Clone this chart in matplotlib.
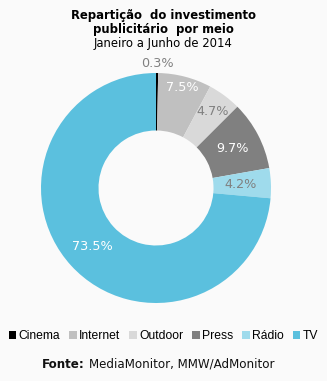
import numpy as np
import matplotlib.pyplot as plt
from matplotlib.patches import Patch

# dados: repartição do investimento publicitário (Jan-Jun 2014)
meios = ['Cinema', 'Internet', 'Outdoor', 'Press', 'Rádio', 'TV']
valores = [0.3, 7.5, 4.7, 9.7, 4.2, 73.5]
cores = ['#000000', '#c0c0c0', '#d9d9d9', '#808080', '#9fdbec', '#5bc0de']
cor_rotulo = ['#808080', 'white', '#808080', 'white', '#808080', 'white']
raio_rotulo = [1.08, 0.90, 0.83, 0.75, 0.74, 0.75]

W, H = 327, 381
fig = plt.figure(figsize=(W / 100, H / 100), dpi=100, facecolor='#fafafa')

cx, cy, r = 156, 188, 115
ax = fig.add_axes([(cx - r) / W, (H - cy - r) / H, 2 * r / W, 2 * r / H])
ax.set_facecolor('#fafafa')
ax.pie(valores, colors=cores, startangle=90, counterclock=False,
       wedgeprops=dict(width=0.5, linewidth=0), radius=1.0)
ax.set_xlim(-1, 1)
ax.set_ylim(-1, 1)
ax.axis('off')

# rótulos de percentagem
total = sum(valores)
acum = 0
for v, c, rr in zip(valores, cor_rotulo, raio_rotulo):
    meio = (acum + v / 2) / total
    ang = np.deg2rad(90 - 360 * meio)
    ax.text(rr * np.cos(ang), rr * np.sin(ang), f'{v:.1f}%', color=c,
            ha='center', va='center', fontsize=9.2, family='DejaVu Sans')
    acum += v

# título
fig.text(0.5, 1 - 16 / H, 'Repartição  do investimento', ha='center', va='center',
         fontsize=8.4, fontweight='bold', family='DejaVu Sans')
fig.text(0.5, 1 - 30 / H, 'publicitário  por meio', ha='center', va='center',
         fontsize=8.4, fontweight='bold', family='DejaVu Sans')
fig.text(0.5, 1 - 44 / H, 'Janeiro a Junho de 2014', ha='center', va='center',
         fontsize=8.4, family='DejaVu Sans')

# legenda
handles = [Patch(facecolor=c, edgecolor='none') for c in cores]
fig.legend(handles, meios, loc='center', bbox_to_anchor=(0.5, 1 - 336 / H), ncol=6,
           frameon=False, handlelength=0.6, handleheight=0.6, handletextpad=0.2,
           columnspacing=0.75, prop={'family': 'Liberation Sans', 'size': 8.7})

# fonte
fig.text(42 / W, 1 - 364 / H, 'Fonte:', ha='left', va='center',
         fontsize=8.6, fontweight='bold', family='DejaVu Sans', color='#111111')
fig.text(89 / W, 1 - 364 / H, 'MediaMonitor, MMW/AdMonitor', ha='left', va='center',
         fontsize=8.6, family='DejaVu Sans', color='#111111')

fig.savefig('out.png', dpi=100, facecolor=fig.get_facecolor())
